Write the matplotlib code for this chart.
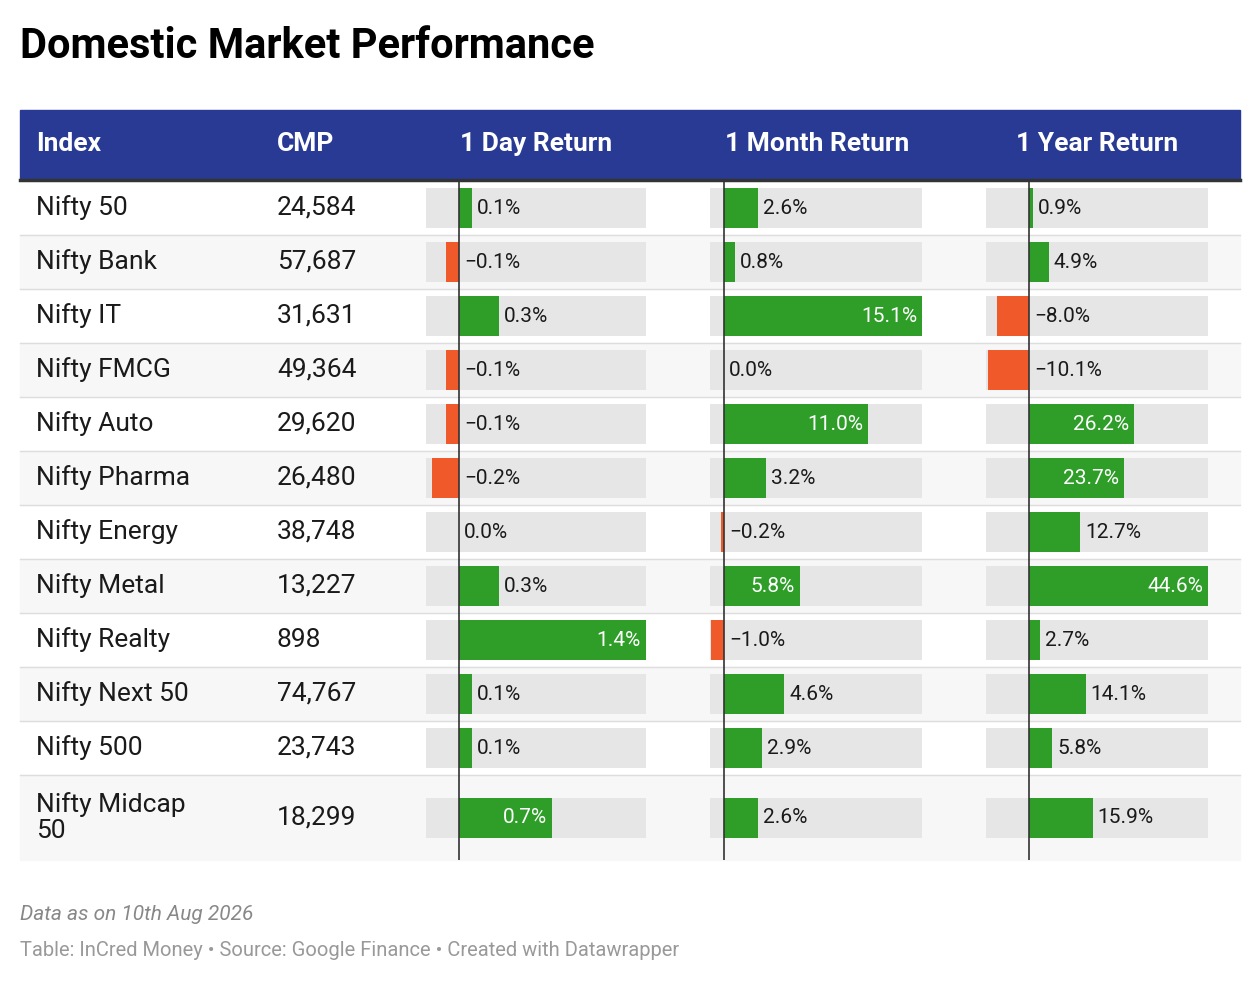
import matplotlib.pyplot as plt
from matplotlib.patches import Rectangle

plt.rcParams['font.family'] = ['Roboto', 'DejaVu Sans']

indices = ['Nifty 50', 'Nifty Bank', 'Nifty IT', 'Nifty FMCG', 'Nifty Auto', 'Nifty Pharma',
           'Nifty Energy', 'Nifty Metal', 'Nifty Realty', 'Nifty Next 50', 'Nifty 500',
           'Nifty Midcap\n50']
cmp_vals = ['24,584', '57,687', '31,631', '49,364', '29,620', '26,480',
            '38,748', '13,227', '898', '74,767', '23,743', '18,299']
day_ret = [0.1, -0.1, 0.3, -0.1, -0.1, -0.2, 0.0, 0.3, 1.4, 0.1, 0.1, 0.7]
month_ret = [2.6, 0.8, 15.1, 0.0, 11.0, 3.2, -0.2, 5.8, -1.0, 4.6, 2.9, 2.6]
year_ret = [0.9, 4.9, -8.0, -10.1, 26.2, 23.7, 12.7, 44.6, 2.7, 14.1, 5.8, 15.9]

W, H = 1260, 984
fig = plt.figure(figsize=(12.6, 9.84), dpi=100)
ax = fig.add_axes([0, 0, 1, 1])
ax.set_xlim(0, W)
ax.set_ylim(H, 0)
ax.axis('off')

GREEN = '#2e9e29'
RED = '#f05a2b'
BLUE = '#283a94'
TXT = '#1a1a1a'

ax.text(20, 46, 'Domestic Market Performance', fontsize=30, fontweight='bold',
        va='center', color='black')

# header
ax.add_patch(Rectangle((20, 110), 1220, 69, color=BLUE))
ax.plot([20, 1240], [180, 180], color='#333333', lw=2.5)
hy = 144
ax.text(36, hy, 'Index', color='white', fontsize=19, fontweight='bold', va='center')
ax.text(277, hy, 'CMP', color='white', fontsize=19, fontweight='bold', va='center')
ax.text(536, hy, '1 Day Return', color='white', fontsize=19, fontweight='bold', va='center', ha='center')
ax.text(817, hy, '1 Month Return', color='white', fontsize=19, fontweight='bold', va='center', ha='center')
ax.text(1097, hy, '1 Year Return', color='white', fontsize=19, fontweight='bold', va='center', ha='center')

# rows
tops = [181 + 54 * i for i in range(12)] + [860]
centers = [(tops[i] + tops[i + 1]) / 2 for i in range(12)]
for i in range(12):
    if i % 2 == 1:
        ax.add_patch(Rectangle((20, tops[i]), 1220, tops[i + 1] - tops[i], color='#f7f7f7', zorder=0))
    if i < 11:
        ax.plot([20, 1240], [tops[i + 1], tops[i + 1]], color='#dddddd', lw=1)
    ax.text(36, centers[i], indices[i], fontsize=19, va='center', color=TXT, linespacing=1.1)
    ax.text(277, centers[i], cmp_vals[i], fontsize=19, va='center', color=TXT)

# bar columns: (pixel left, pixel right, data min, data max, values)
cols = [(426, 646, -0.247, 1.4, day_ret),
        (710, 922, -1.07, 15.1, month_ret),
        (986, 1208, -10.7, 44.6, year_ret)]
for x0, x1, vmin, vmax, vals in cols:
    bax = fig.add_axes([x0 / W, 1 - 860 / H, (x1 - x0) / W, (860 - 181) / H])
    bax.set_xlim(vmin, vmax)
    bax.set_ylim(860, 181)
    bax.axis('off')
    bax.patch.set_alpha(0)
    scale = (x1 - x0) / (vmax - vmin)
    for c, v in zip(centers, vals):
        bax.barh(c, vmax - vmin, left=vmin, height=40, color='#e6e6e6', zorder=1)
        bax.barh(c, v, height=40, color=GREEN if v >= 0 else RED, zorder=2)
        lab = f'{v:.1f}%'.replace('-', '\u2212')
        if v > 0 and v * scale > 70:
            bax.text(v - 5 / scale, c, lab, color='white', fontsize=15, va='center', ha='right', zorder=3)
        else:
            bax.text(max(v, 0) + 5 / scale, c, lab, color=TXT, fontsize=15, va='center', ha='left', zorder=3)
    bax.plot([0, 0], [181, 860], color='#333333', lw=1.2, zorder=4)

ax.text(20, 914, 'Data as on 10th Aug 2026', fontsize=15, style='italic', color='#888888', va='center')
ax.text(20, 951, 'Table: InCred Money \u2022 Source: Google Finance \u2022 Created with Datawrapper',
        fontsize=14.5, color='#999999', va='center')

fig.savefig('out.png', dpi=100)
